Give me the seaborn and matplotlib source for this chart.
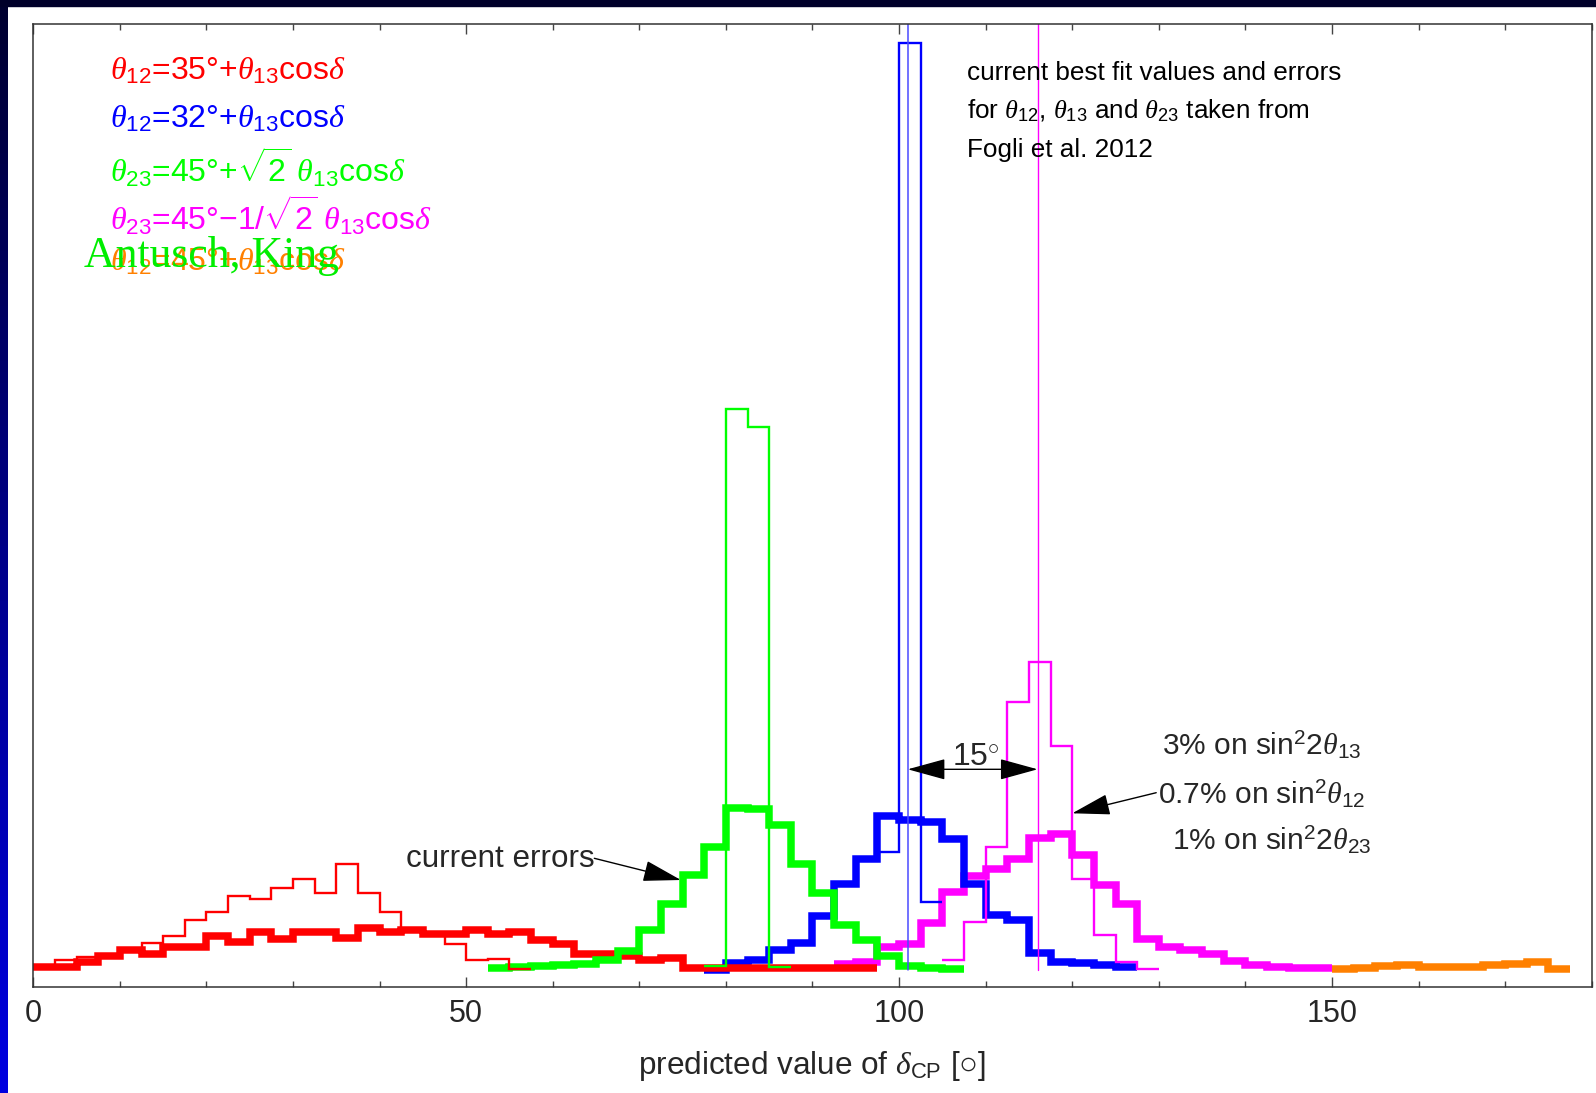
import numpy as np
import matplotlib
matplotlib.use("Agg")
import matplotlib.pyplot as plt
import seaborn as sns
from matplotlib.ticker import FixedLocator, MultipleLocator
from matplotlib.patches import Rectangle

# histograms of predicted delta_CP, bins of 2.5 degrees
# each series: index of first bin + bin heights (arbitrary units)
bin_width = 2.5

red_now_start = 0
red_now = [20, 20, 25, 31, 37, 33, 40, 40, 51, 45, 55, 48, 55, 55, 49, 59, 55, 57, 53, 53,
           57, 53, 55, 47, 43, 33, 33, 31, 27, 29, 19, 19, 19, 19, 19, 19, 19, 19, 19]
red_fut_start = 0
red_fut = [21, 27, 30, 32, 38, 44, 51, 67, 75, 91, 88, 99, 108, 94, 123, 94, 75, 58, 53, 43,
           27, 28, 18]

green_now_start = 21
green_now = [19, 20, 21, 22, 23, 27, 36, 57, 83, 112, 140, 179, 178, 162, 123, 94, 62, 47,
             31, 21, 19, 18]
green_fut_start = 31
green_fut = [21, 578, 560, 20]

blue_now_start = 31
blue_now = [17, 24, 27, 37, 44, 71, 103, 128, 171, 167, 165, 148, 103, 72, 67, 34, 25, 24,
            22, 20]
blue_fut_start = 39
blue_fut = [135, 944, 85]

magenta_now_start = 37
magenta_now = [23, 25, 40, 43, 64, 95, 111, 118, 128, 149, 153, 132, 102, 83, 48, 40, 37,
               33, 26, 22, 20, 19, 19]
magenta_fut_start = 42
magenta_fut = [27, 65, 140, 285, 325, 241, 108, 52, 25, 18]

orange_now_start = 60
orange_now = [18, 19, 21, 22, 20, 20, 20, 22, 23, 25, 18]

# best fit values for the future precision (vertical lines)
best_blue = 101.0
best_magenta = 116.0

legend_labels = [
    (r"$\theta_{12}$=35°+$\theta_{13}$cos$\delta$", "#ff0000"),
    (r"$\theta_{12}$=32°+$\theta_{13}$cos$\delta$", "#0000ff"),
    (r"$\theta_{23}$=45°+$\sqrt{2}\ \theta_{13}$cos$\delta$", "#00ff00"),
    (r"$\theta_{23}$=45°−1/$\sqrt{2}\ \theta_{13}$cos$\delta$", "#ff00ff"),
    (r"$\theta_{12}$=45°+$\theta_{13}$cos$\delta$", "#ff8000"),
]
legend_baselines = [906.7, 859, 804, 756, 716]

note_lines = ["current best fit values and errors",
              r"for $\theta_{12}$, $\theta_{13}$ and $\theta_{23}$ taken from",
              "Fogli et al. 2012"]
note_baselines = [906.7, 868.3, 830]


def steps(start, heights):
    x = (start + np.arange(len(heights) + 1)) * bin_width
    y = np.append(heights, heights[-1])
    return x, y


sns.set_theme(style="white")
plt.rcParams["font.family"] = ["Liberation Sans", "DejaVu Sans"]
plt.rcParams["mathtext.fontset"] = "custom"
plt.rcParams["mathtext.rm"] = "Liberation Sans"
plt.rcParams["mathtext.it"] = "Liberation Serif:italic"
plt.rcParams["mathtext.bf"] = "Liberation Sans:bold"

fig = plt.figure(figsize=(15.96, 10.93), dpi=100)
ax = fig.add_axes([0.02086, 0.09725, 0.97644, 0.8808])

# dark frame on top and left
fig.add_artist(Rectangle((0, 1 - 6 / 1093), 1, 6 / 1093, transform=fig.transFigure,
                         color="#00002a", zorder=10))
frame = fig.add_axes([0, 0, 8 / 1596, 1])
frame.imshow(np.linspace(0, 1, 100)[:, None], aspect="auto",
             cmap=matplotlib.colors.LinearSegmentedColormap.from_list("f", ["#000030", "#0000e0"]))
frame.axis("off")

thick = 5.4
thin = 1.7
series = [
    (magenta_now_start, magenta_now, "#ff00ff", thick),
    (blue_now_start, blue_now, "#0000ff", thick),
    (red_now_start, red_now, "#ff0000", thick),
    (green_now_start, green_now, "#00ff00", thick),
    (orange_now_start, orange_now, "#ff8000", thick),
    (red_fut_start, red_fut, "#ff0000", thin),
    (green_fut_start, green_fut, "#00ff00", thin),
    (blue_fut_start, blue_fut, "#0000ff", thin),
    (magenta_fut_start, magenta_fut, "#ff00ff", thin),
]
for start, h, c, lw in series:
    x, y = steps(start, h)
    sns.lineplot(x=x, y=y, ax=ax, color=c, lw=lw, drawstyle="steps-post",
                 estimator=None, solid_joinstyle="miter", solid_capstyle="butt")

ax.axvline(best_blue, ymin=17 / 962.7, ymax=1, color="#4a4aff", lw=1.1)
ax.axvline(best_magenta, ymin=17 / 962.7, ymax=1, color="#ff00ff", lw=1.0)

ax.set_xlim(0, 180)
ax.set_ylim(0, 962.7)
ax.set_yticks([])
ax.xaxis.set_major_locator(FixedLocator([0, 50, 100, 150]))
ax.xaxis.set_minor_locator(MultipleLocator(10))
ax.tick_params(axis="x", which="major", direction="in", length=7, width=1.0,
               color="#444444", top=True, bottom=True, labelsize=22, pad=9)
ax.tick_params(axis="x", which="minor", direction="in", length=4.3, width=1.0,
               color="#444444", top=True, bottom=True)
for s in ax.spines.values():
    s.set_color("#333333")
    s.set_linewidth(1.1)
ax.set_xlabel(r"predicted value of $\delta_{\mathrm{CP}}$ [○]", fontsize=22.7, labelpad=14)

# legend-like labels
for (txt, c), yb in zip(legend_labels, legend_baselines):
    ax.text(8.9, yb, txt, color=c, fontsize=23, va="baseline", ha="left")
ax.text(5.8, 720, "Antusch, King", color="#00ee00", fontsize=31.5, family="Liberation Serif",
        va="baseline", ha="left")

for txt, yb in zip(note_lines, note_baselines):
    ax.text(107.9, yb, txt, color="black", fontsize=18.8, va="baseline", ha="left")

# annotations
ax.text(64.8, 127.4, "current errors", fontsize=22.6, ha="right", va="center")
ax.annotate("", xy=(74.8, 106.7), xytext=(64.8, 128.4),
            arrowprops=dict(arrowstyle="-|>,head_length=1.2,head_width=0.33", mutation_scale=20,
                            color="black", lw=1.0, shrinkA=0, shrinkB=0))

ax.annotate("", xy=(best_magenta, 217.4), xytext=(best_blue, 217.4),
            arrowprops=dict(arrowstyle="<|-|>,head_length=1.2,head_width=0.33", mutation_scale=20,
                            color="black", lw=1.0, shrinkA=0, shrinkB=0))
ax.text(108.85, 221.7, r"15$^{\circ}$", fontsize=23, ha="center", va="baseline")

ax.text(130.4, 231.7, r"3% on sin$^2$2$\theta_{13}$", fontsize=21.5, va="baseline")
ax.text(129.9, 183.4, r"0.7% on sin$^2\theta_{12}$", fontsize=21.5, va="baseline")
ax.text(131.5, 137.4, r"1% on sin$^2$2$\theta_{23}$", fontsize=21.5, va="baseline")
ax.annotate("", xy=(120.0, 173.4), xytext=(129.7, 194),
            arrowprops=dict(arrowstyle="-|>,head_length=1.2,head_width=0.33", mutation_scale=20,
                            color="black", lw=1.0, shrinkA=0, shrinkB=0))

fig.savefig("out.png", dpi=100)
